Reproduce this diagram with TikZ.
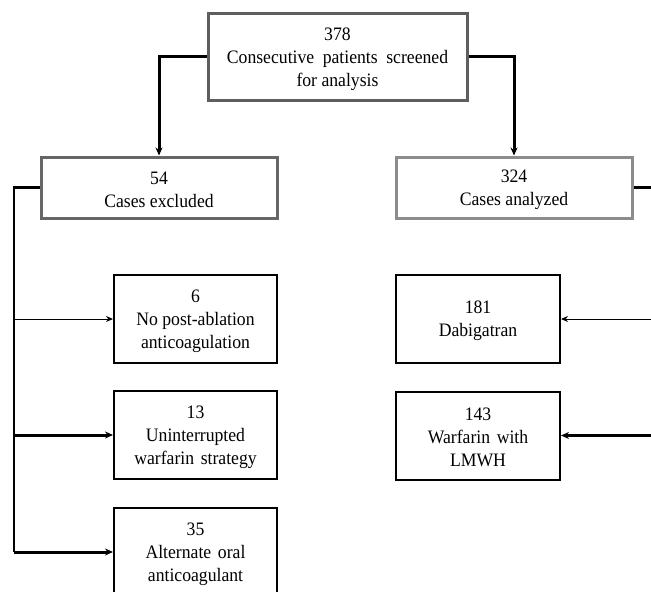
\documentclass[tikz,border=0pt]{standalone}
\usepackage{fontspec}
\setmainfont{Liberation Serif}[FakeStretch=0.93]
\usetikzlibrary{arrows.meta}
\definecolor{topgray}{HTML}{5E5E5E}
\definecolor{exgray}{HTML}{666666}
\definecolor{angray}{HTML}{8C8C8C}
\tikzset{
  txt/.style={align=center,font=\fontsize{19}{23}\selectfont,inner sep=0pt},
  bigbox/.style={draw,line width=3pt,minimum width=#1,minimum height=61pt},
  smallbox/.style={draw=black,line width=2pt,minimum width=163pt,minimum height=88pt},
  conn/.style={line width=3pt,-{Stealth[length=8pt,width=7pt]}},
  thinconn/.style={line width=1pt,-{Stealth[length=7pt,width=6pt]}},
  trunk/.style={line width=2.2pt},
}
\begin{document}
\begin{tikzpicture}[x=1pt,y=-1pt]
\useasboundingbox (0,0) rectangle (651,592);
\clip (0,0) rectangle (651,592);
% boxes
\node[draw=topgray,line width=3pt,minimum width=259pt,minimum height=87pt] (top) at (337.5,56.5) {};
\node[bigbox=236pt,draw=exgray] (excl) at (159,187.5) {};
\node[bigbox=236pt,draw=angray] (anal) at (514,187.5) {};
\node[smallbox] (b6) at (195.5,319) {};
\node[smallbox] (b13) at (195.5,435) {};
\node[smallbox] (b35) at (195.5,552) {};
\node[smallbox,minimum width=164pt] (b181) at (478,319) {};
\node[smallbox,minimum width=164pt] (b143) at (478,435.5) {};
% texts
\node[txt] (topt) at ([yshift=-3pt]top.center) {378\\Consecutive\hspace{0.45em}patients\hspace{0.45em}screened\\for analysis};
\node[txt] (exclt) at ([yshift=-2pt]excl.center) {54\\Cases excluded};
\node[txt] (analt) at ([yshift=-2pt]anal.center) {324\\Cases analyzed};
\node[txt] (b6t) at ([yshift=-2.5pt]b6.center) {6\\No post-ablation\\anticoagulation};
\node[txt] (b13t) at ([yshift=-2.5pt]b13.center) {13\\Uninterrupted\\warfarin\hspace{0.35em}strategy};
\node[txt] (b35t) at ([yshift=-2.5pt]b35.center) {35\\Alternate\hspace{0.35em}oral\\anticoagulant};
\node[txt] (b181t) at ([yshift=-2pt]b181.center) {181\\Dabigatran};
\node[txt] (b143t) at ([yshift=-2pt]b143.center) {143\\Warfarin\hspace{0.35em}with\\LMWH};
% top connectors
\draw[conn] (top.west) -| (excl.north);
\draw[conn] (top.east) -| (anal.north);
% left trunk
\coordinate (lt) at (14,187.5);
\coordinate (l6) at (14,319);
\coordinate (l13) at (14,435);
\coordinate (l35) at (14,552);
\draw[trunk] (excl.west) -- (lt) -- (l35);
\draw[thinconn] (l6) -- (b6.west);
\draw[conn] (l13) -- (b13.west);
\draw[conn] (l35) -- (b35.west);
% right trunk
\coordinate (rt) at (662,187.5);
\coordinate (r181) at (662,319);
\coordinate (r143) at (662,435.5);
\draw[trunk] (anal.east) -- (rt) -- (662,600);
\draw[thinconn] (r181) -- (b181.east);
\draw[conn] (r143) -- (b143.east);
\end{tikzpicture}
\end{document}
